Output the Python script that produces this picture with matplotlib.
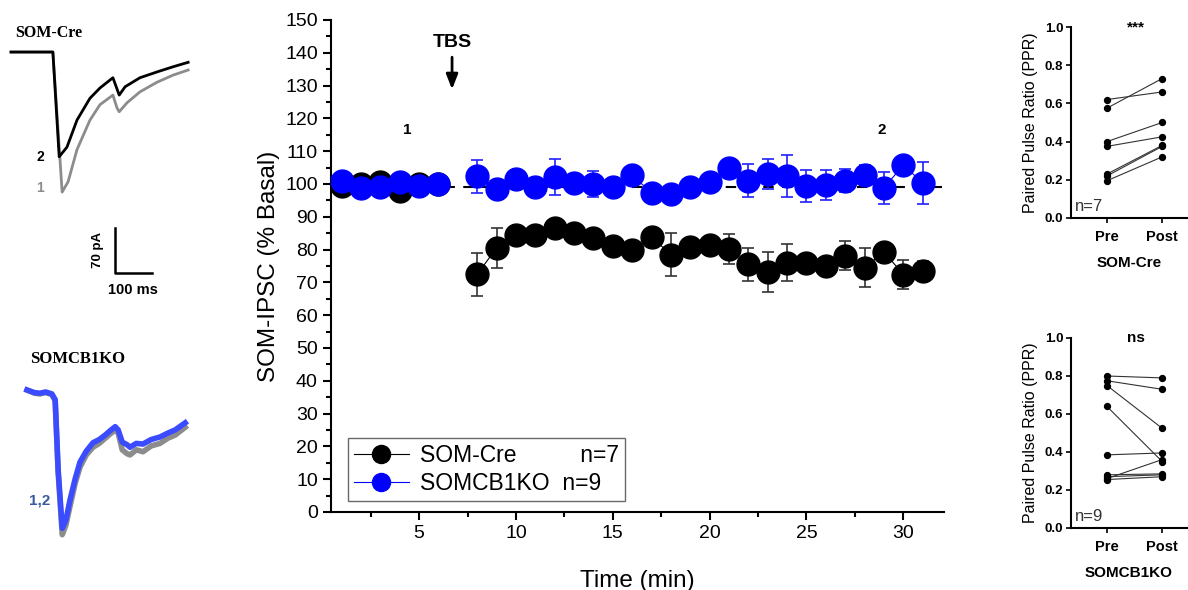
import numpy as np
import matplotlib.pyplot as plt
from matplotlib.lines import Line2D

plt.rcParams['font.family'] = ['Liberation Sans', 'DejaVu Sans']

# ---- datos serie temporal (% basal) ----
tiempo = [1, 2, 3, 4, 5, 6, 7, 8, 9, 10, 11, 12, 13, 14, 15, 16, 17, 18, 19, 20,
          21, 22, 23, 24, 25, 26, 27, 28, 29, 30, 31]
som_cre = [99.5, 100, 100.5, 97.8, 100, 100, np.nan, 72.5, 80.5, 84.5, 84.5, 86.5, 85, 83.5, 81.2, 80,
           83.8, 78.5, 80.8, 81.4, 80.2, 75.5, 73.2, 76, 76, 75, 78.2, 74.5, 79.3, 72.4, 73.4]
som_cre_err = [1.5, 1.5, 1.5, 1.5, 1.5, 1.5, np.nan, 6.5, 6, 2.5, 2.5, 2.5, 2.5, 2.5, 2.5, 2.5,
               2.5, 6.5, 2.5, 2.5, 4.5, 5, 6, 5.7, 2.5, 2.5, 4.4, 6, 2.5, 4.5, 3]
som_cb1ko = [100.8, 98.7, 99, 100.6, 99.5, 100, np.nan, 102.4, 98.5, 101.5, 99.2, 102.2, 100.3, 100, 99.2, 102.7,
             97.3, 97, 99, 100.6, 105, 101, 103, 102.4, 99.4, 99.7, 101, 102.7, 98.8, 105.8, 100.3]
som_cb1ko_err = [1.5, 1.5, 1.5, 1.5, 1.5, 1.5, np.nan, 5, 2, 2, 2, 5.5, 2, 4, 2, 2,
                 2, 2, 2, 2, 2, 5, 4.5, 6.5, 5, 4.5, 3.5, 3, 5, 2, 6.5]

# ---- datos PPR ----
ppr_cre_pre = [0.62, 0.575, 0.40, 0.375, 0.23, 0.22, 0.195]
ppr_cre_post = [0.66, 0.73, 0.50, 0.425, 0.38, 0.375, 0.32]
ppr_ko_pre = [0.80, 0.775, 0.75, 0.64, 0.385, 0.28, 0.27, 0.26, 0.255]
ppr_ko_post = [0.79, 0.73, 0.525, 0.35, 0.395, 0.285, 0.28, 0.36, 0.27]

# ---- trazas (ms, pA) ----
cre_t2 = [0, 113, 130, 151, 178, 213, 240, 275, 292, 308, 348, 394, 437, 478]
cre_i2 = [0, 0, -163, -148, -106, -72, -56, -40, -67, -54, -40, -31, -23, -16]
cre_t1 = [0, 113, 138, 154, 178, 213, 240, 275, 286, 292, 313, 348, 394, 437, 478]
cre_i1 = [0, 0, -218, -202, -152, -106, -82, -67, -87, -93, -79, -62, -47, -36, -28]
ko_t = [0, 20, 35, 50, 67, 76, 84, 95, 105, 116, 130, 143, 160, 178, 195, 211, 225, 238, 246, 257,
        270, 278, 295, 313, 335, 359, 380, 400, 427]
ko_i2 = [3, -1, -2, 0, -3, -12, -121, -212, -199, -168, -135, -109, -92, -79, -74, -67, -60, -54, -59, -78,
         -82, -86, -80, -81, -74, -70, -64, -59, -48]
ko_i1 = [3, -2, -3, -1, -4, -14, -125, -222, -207, -178, -142, -117, -98, -86, -80, -72, -65, -59, -64, -90,
         -96, -98, -90, -93, -84, -80, -72, -67, -55]

W, H = 1188, 590
fig = plt.figure(figsize=(11.88, 5.9), dpi=100)


def px_axes(x0, y0, x1, y1):
    return fig.add_axes([x0 / W, 1 - y1 / H, (x1 - x0) / W, (y1 - y0) / H])


# ---- panel principal ----
ax = px_axes(331, 20, 944, 512)
ax.plot([0.5, 32], [99, 99], color='black', ls=(0, (5, 4)), lw=1.5, zorder=1)
ax.errorbar(tiempo, som_cre, yerr=som_cre_err, fmt='o-', color='black', ecolor='#333333',
            lw=0.8, elinewidth=1.2, capsize=4, capthick=1.2, ms=16.5, zorder=2)
ax.errorbar(tiempo, som_cb1ko, yerr=som_cb1ko_err, fmt='o-', color='#0000ff', ecolor='#2020ff',
            lw=0.8, elinewidth=1.2, capsize=4, capthick=1.2, ms=16.5, zorder=3)
ax.set_xlim(0.45, 32.1)
ax.set_ylim(0, 150)
ax.set_xticks([5, 10, 15, 20, 25, 30])
ax.set_xticks([2.5, 7.5, 12.5, 17.5, 22.5, 27.5], minor=True)
ax.set_yticks(range(0, 151, 10))
ax.set_yticks(range(5, 150, 10), minor=True)
for s in ['top', 'right']:
    ax.spines[s].set_visible(False)
for s in ['left', 'bottom']:
    ax.spines[s].set_linewidth(1.5)
ax.tick_params(which='major', length=6, width=1.5, labelsize=14)
ax.tick_params(which='minor', length=3.5, width=1.5)
ax.set_ylabel('SOM-IPSC (% Basal)', fontsize=17.5, labelpad=4)
ax.set_xlabel('Time (min)', fontsize=17.5, labelpad=20)

ax.text(4.4, 116.5, '1', fontsize=11, fontweight='bold', ha='center', va='center')
ax.text(28.9, 116.5, '2', fontsize=11, fontweight='bold', ha='center', va='center')
ax.text(6.7, 143, 'TBS', fontsize=14, fontweight='bold', ha='center', va='center')
ax.annotate('', xy=(6.7, 128), xytext=(6.7, 139.5),
            arrowprops=dict(arrowstyle='-|>,head_width=0.35,head_length=0.9', color='black', lw=2))

handles = [Line2D([], [], color='black', marker='o', ms=13, lw=0.8),
           Line2D([], [], color='#0000ff', marker='o', ms=13, lw=0.8)]
leg = ax.legend(handles, ['SOM-Cre          n=7', 'SOMCB1KO  n=9'], loc='lower left',
                bbox_to_anchor=(0.028, 0.022), borderaxespad=0, fontsize=16.5, fancybox=False,
                edgecolor='#444444', handlelength=2.4, labelspacing=0.25, handletextpad=0.5,
                borderpad=0.25)
leg.get_frame().set_linewidth(1)


# ---- paneles PPR ----
def ppr_panel(y0, y1, pre, post, titulo, grupo, n):
    a = px_axes(1071, y0, 1187, y1)
    for p, q in zip(pre, post):
        a.plot([0, 1], [p, q], color='#333333', lw=0.8, zorder=1)
    a.scatter([0] * len(pre), pre, s=18, color='black', zorder=2)
    a.scatter([1] * len(post), post, s=18, color='black', zorder=2)
    a.set_xlim(-0.65, 1.45)
    a.set_ylim(0, 1.0)
    a.set_yticks([0, 0.2, 0.4, 0.6, 0.8, 1.0])
    a.set_yticklabels(['0.0', '0.2', '0.4', '0.6', '0.8', '1.0'], fontweight='bold')
    a.set_xticks([0, 1])
    a.set_xticklabels(['Pre', 'Post'], fontweight='bold')
    a.tick_params(labelsize=9.5, length=3.5, width=1.2, pad=2)
    a.tick_params(axis='x', labelsize=10.5, pad=5)
    for s in ['top', 'right']:
        a.spines[s].set_visible(False)
    for s in ['left', 'bottom']:
        a.spines[s].set_linewidth(1.5)
    a.set_ylabel('Paired Pulse Ratio (PPR)', fontsize=11.5, labelpad=5)
    a.set_xlabel(grupo, fontsize=11, fontweight='bold', labelpad=9)
    a.text(0.53, 1.0, titulo, fontsize=11, fontweight='bold', ha='center', va='center')
    a.text(0.03, 0.02, n, transform=a.transAxes, fontsize=12, color='#333333', va='bottom')


ppr_panel(27, 218, ppr_cre_pre, ppr_cre_post, '***', 'SOM-Cre', 'n=7')
ppr_panel(338, 528, ppr_ko_pre, ppr_ko_post, 'ns', 'SOMCB1KO', 'n=9')

# ---- trazas ----
tr1 = px_axes(0, 0, 200, 300)
tr1.set_xlim(-29.7, 510)
tr1.set_ylim(-386, 81)
tr1.axis('off')
tr1.plot(cre_t1, cre_i1, color='#8c8c8c', lw=2)
tr1.plot(cre_t2, cre_i2, color='black', lw=2)
tr1.plot([281, 281, 381], [-274, -344, -344], color='black', lw=1.8)
tr1.text(0.075, 0.89, 'SOM-Cre', transform=tr1.transAxes, family='Liberation Serif',
         fontsize=11.5, fontweight='bold', va='center')
tr1.text(0.2, 0.477, '2', transform=tr1.transAxes, fontsize=10, fontweight='bold', ha='center', va='center')
tr1.text(0.2, 0.373, '1', transform=tr1.transAxes, fontsize=10, fontweight='bold', color='#8c8c8c',
         ha='center', va='center')
tr1.text(0.49, 0.167, '70 pA', transform=tr1.transAxes, fontsize=9.5, fontweight='bold', rotation=90,
         ha='center', va='center')
tr1.text(0.665, 0.035, '100 ms', transform=tr1.transAxes, fontsize=10.5, fontweight='bold',
         ha='center', va='center')

tr2 = px_axes(0, 300, 200, 590)
tr2.set_xlim(-73, 467)
tr2.set_ylim(-308, 143)
tr2.axis('off')
tr2.plot(ko_t, ko_i1, color='#8c8c8c', lw=4)
tr2.plot(ko_t, ko_i2, color='#3b4bff', lw=4)
tr2.text(0.39, 0.797, 'SOMCB1KO', transform=tr2.transAxes, family='Liberation Serif',
         fontsize=12, fontweight='bold', ha='center', va='center')
tr2.text(0.2, 0.31, '1,2', transform=tr2.transAxes, fontsize=11, fontweight='bold', color='#3d5a9e',
         ha='center', va='center')

fig.savefig('out.png', dpi=100)
